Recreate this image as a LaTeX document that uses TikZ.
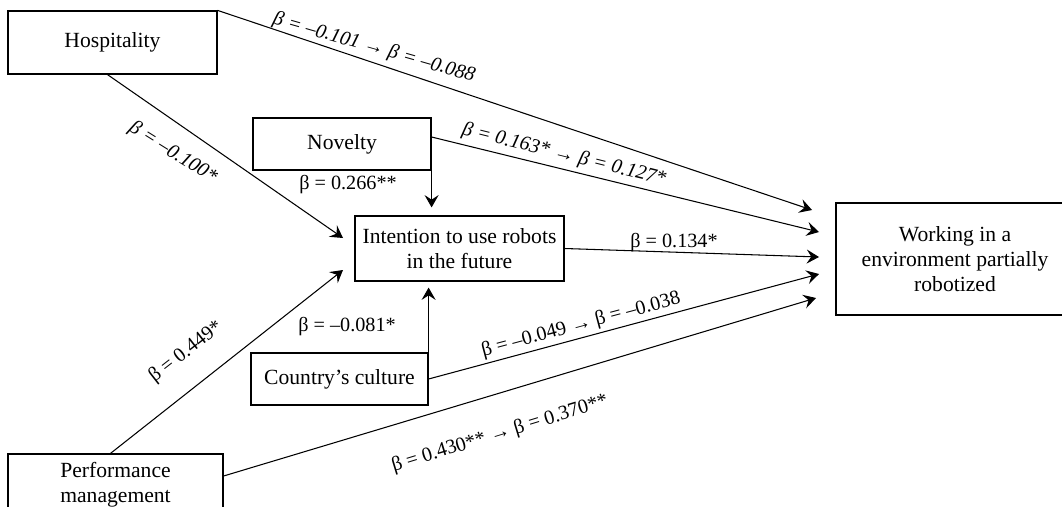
\documentclass[tikz,border=0pt]{standalone}
\usepackage{fontspec}
\setmainfont{Liberation Serif}
\usetikzlibrary{arrows.meta,calc}

\begin{document}
\begin{tikzpicture}[x=0.02cm,y=-0.02cm,
  box/.style={
    rectangle, draw, line width=0.7pt, align=center, inner sep=2pt,
    font=\fontsize{12.3}{14.2}\selectfont
  },
  arr/.style={-{Stealth[length=7pt,width=8pt,inset=2.6pt]}, line width=0.6pt},
  coef/.style={inner sep=0pt, font=\fontsize{11.5}{13}\selectfont},
  coefit/.style={inner sep=0pt, font=\fontsize{11.5}{13}\selectfont\itshape}
]
\useasboundingbox (0,0) rectangle (1062,507);

% --- Constructs
\node[box, minimum width=4.18cm, minimum height=1.26cm] (hosp)    at (112.5,42.5) {Hospitality};
\node[box, minimum width=3.56cm, minimum height=1.04cm] (novelty) at (342,144)    {Novelty};
\node[box, minimum width=4.18cm, minimum height=1.30cm] (intent)  at (459.5,248.5) {Intention to use robots\\in the future};
\node[box, minimum width=3.54cm, minimum height=1.04cm] (culture) at (339.5,379)  {Country’s culture};
\node[box, minimum width=4.30cm, minimum height=1.24cm] (perf)    at (115.5,485)  {Performance\\management};
\node[box, minimum width=4.76cm, minimum height=2.24cm] (work)    at (955,259)    {Working in a\\environment partially\\robotized};

% --- Arrow ends (short of the target boxes)
\coordinate (tipH)  at (812,210);
\coordinate (tipN)  at (819,232);
\coordinate (tipI)  at (819,257);
\coordinate (tipC)  at (819,274);
\coordinate (tipP)  at (816,298);
\coordinate (tipHI) at (343,238);
\coordinate (tipPI) at (343,270);

% --- Paths to the outcome
\draw[arr] (hosp.north east) -- (tipH);
\draw[arr] ([yshift=0.14cm]novelty.east) -- (tipN);
\draw[arr] (intent.east) -- (tipI);
\draw[arr] (culture.east) -- (tipC);
\draw[arr] ([yshift=0.18cm]perf.east) -- (tipP);

% --- Paths to the intention
\draw[arr] ([xshift=-0.1cm]hosp.south) -- (tipHI);
\draw[arr] ([xshift=-0.1cm]perf.north) -- (tipPI);
\draw[arr, shorten >=0.16cm] (novelty.south east) -- (novelty.south east |- intent.north);
\draw[arr, shorten >=0.12cm] (culture.north east) -- (culture.north east |- intent.south);

% --- Coefficients
\node[coefit, rotate=-16] (cHosp)   at (374,48)  {β = –0.101 → β = –0.088};
\node[coefit, rotate=-32] (cHospI)  at (173,153) {β = –0.100*};
\node[coef]               (cNovI)   at (348,185) {β = 0.266**};
\node[coefit, rotate=-14] (cNov)    at (564,155) {β = 0.163* → β = 0.127*};
\node[coef]               (cInt)    at (674,243) {β = 0.134*};
\node[coef]               (cCulI)   at (347,327) {β = –0.081*};
\node[coef, rotate=38]    (cPerfI)  at (186,352) {β = 0.449*};
\node[coef, rotate=15]    (cCul)    at (581,325) {β = –0.049 → β = –0.038};
\node[coef, rotate=17]    (cPerf)   at (500,434) {β = 0.430** → β = 0.370**};

\end{tikzpicture}
\end{document}
